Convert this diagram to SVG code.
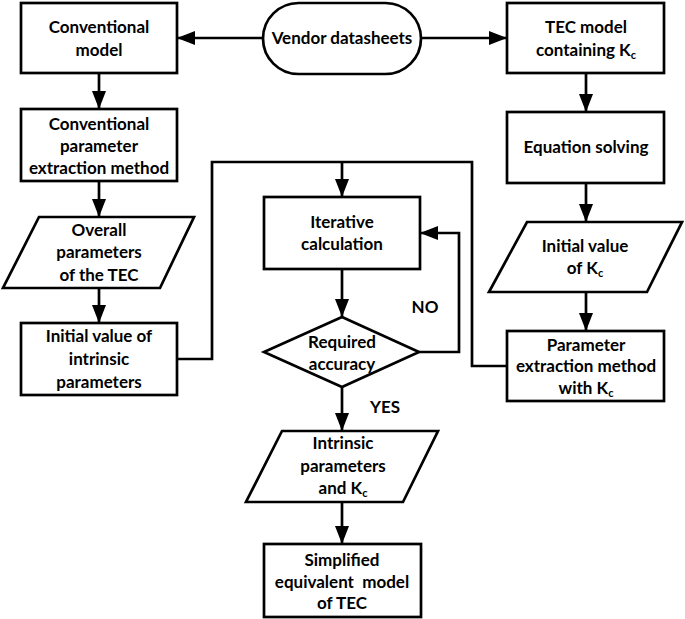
<svg xmlns="http://www.w3.org/2000/svg" width="685" height="619" viewBox="0 0 685 619">
<defs>
<style>
.s{fill:#fff;stroke:#000;stroke-width:2.7}
.c{fill:none;stroke:#000;stroke-width:2.7}
.t{font-family:Lato,"Open Sans","Liberation Sans",sans-serif;font-weight:bold;font-size:17px;fill:#000;text-anchor:middle}
.sub{font-size:11px}
</style>
<marker id="ah" markerUnits="userSpaceOnUse" markerWidth="18" markerHeight="14" refX="18" refY="7" orient="auto">
<path d="M0,0 L18,7 L0,14 z" fill="#000"/>
</marker>
</defs>
<rect width="685" height="619" fill="#fff"/>
<g id="connectors">
<line class="c" x1="263" y1="38" x2="177" y2="38" marker-end="url(#ah)"/>
<line class="c" x1="421" y1="38" x2="507" y2="38" marker-end="url(#ah)"/>
<line class="c" x1="99" y1="73" x2="99" y2="109" marker-end="url(#ah)"/>
<line class="c" x1="99" y1="181" x2="99" y2="217" marker-end="url(#ah)"/>
<line class="c" x1="99" y1="288" x2="99" y2="323" marker-end="url(#ah)"/>
<polyline class="c" points="177,359 212,359 212,162 472,162 472,366 507,366"/>
<line class="c" x1="342" y1="162" x2="342" y2="197" marker-end="url(#ah)"/>
<line class="c" x1="342" y1="269" x2="342" y2="317" marker-end="url(#ah)"/>
<polyline class="c" points="419,352 459,352 459,233 420,233" marker-end="url(#ah)"/>
<line class="c" x1="342" y1="387" x2="342" y2="431" marker-end="url(#ah)"/>
<line class="c" x1="342" y1="502" x2="342" y2="544" marker-end="url(#ah)"/>
<line class="c" x1="586" y1="73" x2="586" y2="112" marker-end="url(#ah)"/>
<line class="c" x1="586" y1="183" x2="586" y2="222" marker-end="url(#ah)"/>
<line class="c" x1="586" y1="292" x2="586" y2="331" marker-end="url(#ah)"/>
<text class="t" x="425" y="313">NO</text>
<text class="t" x="385" y="413">YES</text>
</g>
<g id="vendor">
<rect class="s" x="263" y="3" width="158" height="71" rx="35.5" ry="35.5"/>
<text class="t" x="342" y="44">Vendor datasheets</text>
</g>
<g id="conv-model">
<rect class="s" x="21" y="3" width="156" height="70"/>
<text class="t" x="99" y="33">Conventional</text>
<text class="t" x="99" y="56">model</text>
</g>
<g id="conv-param">
<rect class="s" x="21" y="109" width="156" height="72"/>
<text class="t" x="99" y="130">Conventional</text>
<text class="t" x="99" y="152">parameter</text>
<text class="t" x="99" y="174">extraction method</text>
</g>
<g id="overall">
<path class="s" d="M39,217 L194,217 L160,288 L3,288 Z"/>
<text class="t" x="99" y="236">Overall</text>
<text class="t" x="99" y="258">parameters</text>
<text class="t" x="99" y="281">of the TEC</text>
</g>
<g id="init-intrinsic">
<rect class="s" x="21" y="323" width="156" height="72"/>
<text class="t" x="99" y="342">Initial value of</text>
<text class="t" x="99" y="365">intrinsic</text>
<text class="t" x="99" y="388">parameters</text>
</g>
<g id="tec-model">
<rect class="s" x="507" y="3" width="157" height="70"/>
<text class="t" x="586" y="33">TEC model</text>
<text class="t" x="586" y="56">containing K<tspan class="sub" dy="3">c</tspan></text>
</g>
<g id="equation">
<rect class="s" x="507" y="112" width="157" height="71"/>
<text class="t" x="586" y="153">Equation solving</text>
</g>
<g id="init-kc">
<path class="s" d="M527,222 L682,222 L647,292 L489,292 Z"/>
<text class="t" x="585" y="252">Initial value</text>
<text class="t" x="585" y="274">of K<tspan class="sub" dy="3">c</tspan></text>
</g>
<g id="param-kc">
<rect class="s" x="507" y="331" width="157" height="70"/>
<text class="t" x="586" y="351">Parameter</text>
<text class="t" x="586" y="372">extraction method</text>
<text class="t" x="586" y="394">with K<tspan class="sub" dy="3">c</tspan></text>
</g>
<g id="iterative">
<rect class="s" x="264" y="197" width="156" height="72"/>
<text class="t" x="342" y="228">Iterative</text>
<text class="t" x="342" y="250">calculation</text>
</g>
<g id="accuracy">
<path class="s" d="M342,317 L419,352 L342,387 L264,352 Z"/>
<text class="t" x="342" y="348">Required</text>
<text class="t" x="342" y="370">accuracy</text>
</g>
<g id="intrinsic">
<path class="s" d="M282,431 L438,431 L403,502 L246,502 Z"/>
<text class="t" x="343" y="449">Intrinsic</text>
<text class="t" x="343" y="472">parameters</text>
<text class="t" x="343" y="494">and K<tspan class="sub" dy="3">c</tspan></text>
</g>
<g id="simplified">
<rect class="s" x="264" y="544" width="157" height="73"/>
<text class="t" x="342" y="566">Simplified</text>
<text class="t" x="342" y="588" style="white-space:pre">equivalent  model</text>
<text class="t" x="342" y="609">of TEC</text>
</g>
</svg>
